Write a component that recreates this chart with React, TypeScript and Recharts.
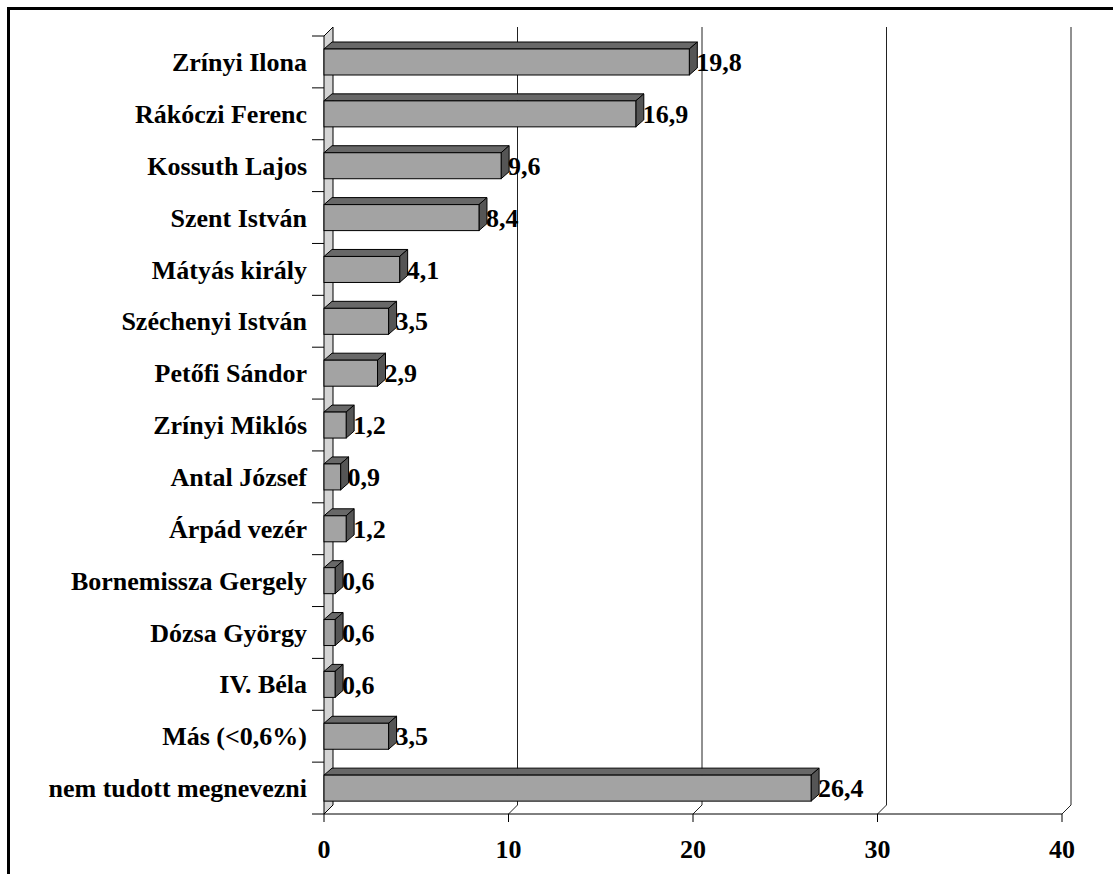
import React from "react";
import { BarChart, Bar, XAxis, YAxis, CartesianGrid, LabelList } from "recharts";

const categories = [
  "Zrínyi Ilona",
  "Rákóczi Ferenc",
  "Kossuth Lajos",
  "Szent István",
  "Mátyás király",
  "Széchenyi István",
  "Petőfi Sándor",
  "Zrínyi Miklós",
  "Antal József",
  "Árpád vezér",
  "Bornemissza Gergely",
  "Dózsa György",
  "IV. Béla",
  "Más (<0,6%)",
  "nem tudott megnevezni",
];
const values = [19.8, 16.9, 9.6, 8.4, 4.1, 3.5, 2.9, 1.2, 0.9, 1.2, 0.6, 0.6, 0.6, 3.5, 26.4];
const xTicks = [0, 10, 20, 30, 40];

const data = categories.map((name, i) => ({ name, value: values[i] }));

const FONT = "'Liberation Serif', 'Times New Roman', serif";
const WALL_D = 9;
const BAR_DX = 8;
const BAR_DY = 7;

const fmt = (v: number) => v.toFixed(1).replace(".", ",");

const GridLine = (props: any) => {
  const { x1, y1, y2, index } = props;
  if (index === 0) {
    return (
      <polygon
        key={props.key}
        points={`${x1},${y1} ${x1 + WALL_D},${y1 - WALL_D} ${x1 + WALL_D},${y2 - WALL_D} ${x1},${y2}`}
        fill="#d4d4d4"
        stroke="#000"
        strokeWidth={1}
      />
    );
  }
  return (
    <g key={props.key}>
      <line x1={x1 + WALL_D} y1={y1 - WALL_D} x2={x1 + WALL_D} y2={y2 - WALL_D} stroke="#222" strokeWidth={1} />
      <line x1={x1} y1={y2} x2={x1 + WALL_D} y2={y2 - WALL_D} stroke="#222" strokeWidth={1} />
    </g>
  );
};

const Bar3D = (props: any) => {
  const { x, y, width, height } = props;
  if (width == null || height == null) return null;
  const w = Math.max(width, 0);
  return (
    <g>
      <polygon
        points={`${x},${y} ${x + BAR_DX},${y - BAR_DY} ${x + w + BAR_DX},${y - BAR_DY} ${x + w},${y}`}
        fill="#686868"
        stroke="#000"
        strokeWidth={1}
      />
      <polygon
        points={`${x + w},${y} ${x + w + BAR_DX},${y - BAR_DY} ${x + w + BAR_DX},${y + height - BAR_DY} ${x + w},${y + height}`}
        fill="#555555"
        stroke="#000"
        strokeWidth={1}
      />
      <rect x={x} y={y} width={w} height={height} fill="#a3a3a3" stroke="#000" strokeWidth={1} />
    </g>
  );
};

const CatTick = (props: any) => {
  const { x, y, payload, index } = props;
  const half = payload && payload.offset ? payload.offset : (props.height || 778) / categories.length / 2;
  const lx1 = x + 5;
  const lx2 = x + 17;
  return (
    <g>
      <line x1={lx1} y1={y - half} x2={lx2} y2={y - half} stroke="#000" strokeWidth={1} />
      {index === categories.length - 1 && (
        <line x1={lx1} y1={y + half} x2={lx2} y2={y + half} stroke="#000" strokeWidth={1} />
      )}
      <text
        x={x}
        y={y}
        dy="0.35em"
        textAnchor="end"
        fontFamily={FONT}
        fontWeight="bold"
        fontSize={26}
        fill="#000"
      >
        {payload.value}
      </text>
    </g>
  );
};

const ValueLabel = (props: any) => {
  const { x, y, width, height, value } = props;
  return (
    <text
      x={x + width + 7}
      y={y + height / 2}
      dy="0.35em"
      textAnchor="start"
      fontFamily={FONT}
      fontWeight="bold"
      fontSize={26}
      fill="#000"
    >
      {fmt(value)}
    </text>
  );
};

export default function App() {
  return (
    <div
      style={{
        position: "fixed",
        left: 0,
        top: 0,
        width: 1113,
        height: 874,
        overflow: "hidden",
        background: "#fff",
      }}
    >
      <div
        style={{
          position: "absolute",
          left: 7,
          top: 7,
          width: 1300,
          height: 1000,
          borderTop: "3px solid #000",
          borderLeft: "3px solid #000",
        }}
      />
      <div style={{ position: "absolute", left: 0, top: 0 }}>
        <BarChart
          width={1113}
          height={874}
          data={data}
          layout="vertical"
          margin={{ top: 36, right: 51, bottom: 30, left: 24 }}
          barSize={26}
        >
          <CartesianGrid horizontal={false} vertical={GridLine as any} />
          <XAxis
            type="number"
            domain={[0, 40]}
            ticks={xTicks}
            interval={0}
            height={30}
            tickSize={8}
            tickMargin={18}
            axisLine={{ stroke: "#000", strokeWidth: 1 }}
            tickLine={{ stroke: "#000", strokeWidth: 1 }}
            tick={{ fontFamily: FONT, fontWeight: "bold", fontSize: 26, fill: "#000" }}
          />
          <YAxis
            type="category"
            dataKey="name"
            width={300}
            axisLine={false}
            tickLine={false}
            tickSize={0}
            tickMargin={17}
            interval={0}
            tick={<CatTick />}
          />
          <Bar dataKey="value" isAnimationActive={false} shape={<Bar3D />}>
            <LabelList dataKey="value" content={<ValueLabel />} />
          </Bar>
        </BarChart>
      </div>
    </div>
  );
}
